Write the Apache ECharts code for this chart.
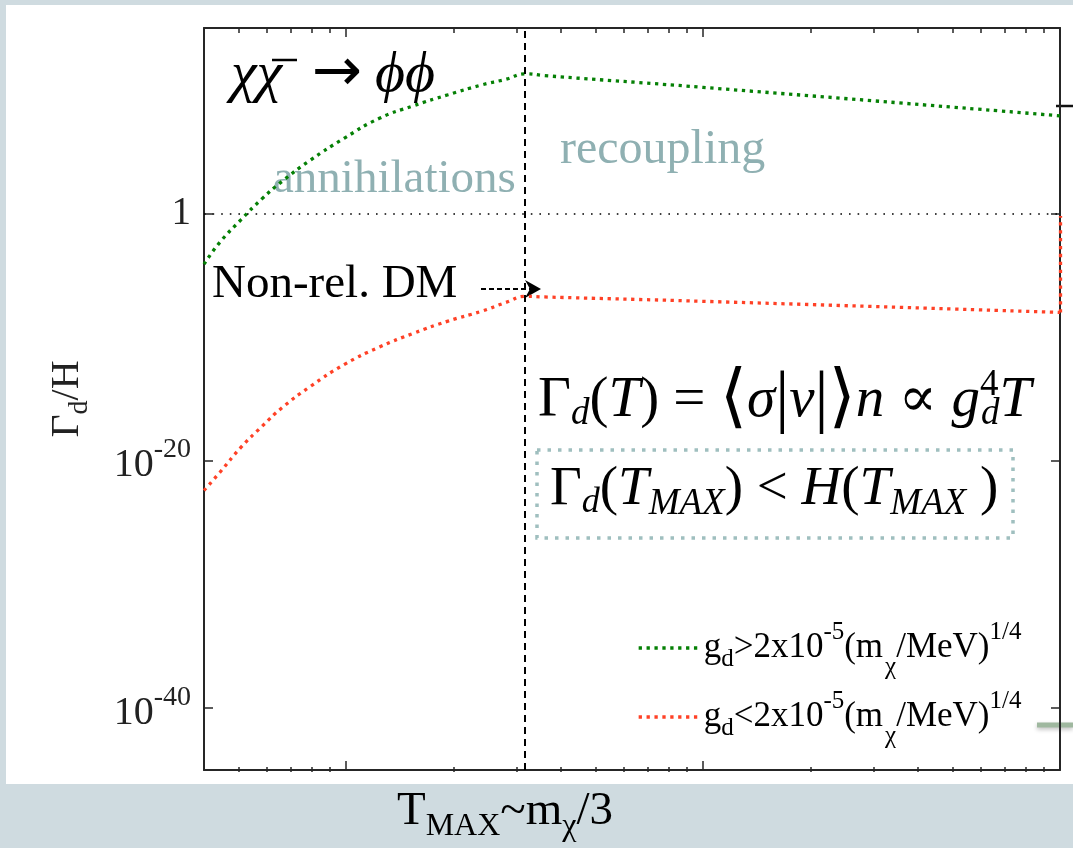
<!DOCTYPE html>
<html>
<head>
<meta charset="utf-8">
<style>
  html, body { margin: 0; padding: 0; background: #cfdbe0; }
  #chart { width: 1073px; height: 848px; }
</style>
<script src="https://cdn.jsdelivr.net/npm/echarts@6/dist/echarts.min.js"></script>
</head>
<body>
<div id="chart"></div>
<script>
// T values (x, log axis) shared by both curves
const tValues = [0.4, 0.444, 0.508, 0.582, 0.662, 0.793, 0.99, 1.24, 1.54, 1.93, 2.4, 2.8, 3.19, 3.6, 10, 100];
// log10(Gamma_d / H)
const greenExp = [-4.1, -2.3, -0.5, 1.2, 2.6, 4.3, 6.1, 7.7, 8.7, 9.6, 10.4, 10.85, 11.3, 11.15, 10.2, 7.9];
const redExp = [-22.4, -20.9, -18.9, -17.2, -15.7, -14.0, -12.2, -10.8, -9.7, -8.7, -7.9, -7.2, -6.7, -6.75, -7.1, -8.0];
// red curve climbs the right edge up to ~1
const redEdgeT = [100, 100];
const redEdgeExp = [-8.0, -0.2];

const seriesNames = ["g_d>2x10^-5(m_chi/MeV)^1/4", "g_d<2x10^-5(m_chi/MeV)^1/4"];
const yTickExps = [-40, -20, 0];
const xMajorTicks = [1, 10, 100];
const xMinorTicks = [0.5, 0.6, 0.7, 0.8, 0.9, 2, 3, 4, 5, 6, 7, 8, 9, 20, 30, 40, 50, 60, 70, 80, 90];
const xRange = [0.4, 100];
const yRange = [-45, 15];
const nonRelT = 3.19; // dashed vertical line
const unityExp = 0;   // Gamma/H = 1

const SERIF = '"Liberation Serif", "DejaVu Serif", serif';
const AXIS_COLOR = "#262626";
const GREEN = "#058005";
const RED = "#ff4126";
const DOTS = [3.3, 4.6];
const lg = (v) => Math.log10(v);

const chart = echarts.init(document.getElementById("chart"));

const greenData = tValues.map((t, i) => [lg(t), greenExp[i]]);
const redData = tValues.map((t, i) => [lg(t), redExp[i]]);

function xAxisDef(grid, pos, ticks, len, withLine) {
  return {
    gridIndex: grid,
    type: "value",
    position: pos,
    min: lg(xRange[0]),
    max: lg(xRange[1]),
    axisLine: { show: withLine, onZero: false, lineStyle: { color: AXIS_COLOR, width: 2 } },
    axisTick: {
      inside: true,
      length: len,
      customValues: ticks.map(lg),
      lineStyle: { color: AXIS_COLOR, width: 1.5 },
    },
    axisLabel: { show: false },
    splitLine: { show: false },
  };
}

// plain text annotation placed on the slide
function note(x, y, text, font, fill) {
  return {
    type: "text",
    x: x,
    y: y,
    style: { text: text, font: font, fill: fill || "#000", align: "left", verticalAlign: "middle" },
  };
}

const option = {
  animation: false,
  backgroundColor: "#cfdbe0",
  grid: [
    { left: 204, top: 28, right: 13, bottom: 76 },
    { left: 204, top: 28, right: 13, bottom: 76 },
  ],
  xAxis: [
    Object.assign(xAxisDef(0, "bottom", xMajorTicks, 9, true), {
      name: "{b|T}{s|MAX}{b|~m}{s|χ}{b|/3}",
      nameLocation: "middle",
      nameGap: 11,
      nameTextStyle: {
        padding: [0, 254, 0, 0],
        rich: {
          b: { fontFamily: SERIF, fontSize: 47, color: "#000", lineHeight: 62 },
          s: { fontFamily: SERIF, fontSize: 32, color: "#000", verticalAlign: "bottom" },
        },
      },
    }),
    xAxisDef(0, "top", xMajorTicks, 9, true),
    xAxisDef(1, "bottom", xMinorTicks, 5, false),
    xAxisDef(1, "top", xMinorTicks, 5, false),
  ],
  yAxis: [
    {
      gridIndex: 0,
      type: "value",
      position: "left",
      min: yRange[0],
      max: yRange[1],
      axisLine: { show: true, onZero: false, lineStyle: { color: AXIS_COLOR, width: 2 } },
      axisTick: { inside: true, length: 9, customValues: yTickExps, lineStyle: { color: AXIS_COLOR, width: 1.5 } },
      axisLabel: {
        customValues: yTickExps,
        margin: 13,
        formatter: (v) => (v === 0 ? "{c|1}" : "{b|10}{p|" + v + "}"),
        rich: {
          c: { fontFamily: SERIF, fontSize: 39, color: "#222" },
          b: { fontFamily: SERIF, fontSize: 40, color: "#222", lineHeight: 50, verticalAlign: "bottom" },
          p: { fontFamily: SERIF, fontSize: 28, color: "#222", verticalAlign: "top" },
        },
      },
      splitLine: { show: false },
      name: "{b|Γ}{s|d}{b|/H}",
      nameLocation: "middle",
      nameRotate: 90,
      nameGap: 110,
      nameTextStyle: {
        rich: {
          b: { fontFamily: SERIF, fontSize: 40, color: "#222", lineHeight: 54 },
          s: { fontFamily: SERIF, fontSize: 28, color: "#222", verticalAlign: "bottom" },
        },
      },
    },
    {
      gridIndex: 0,
      type: "value",
      position: "right",
      min: yRange[0],
      max: yRange[1],
      axisLine: { show: true, onZero: false, lineStyle: { color: AXIS_COLOR, width: 2 } },
      axisTick: { inside: true, length: 9, customValues: yTickExps, lineStyle: { color: AXIS_COLOR, width: 1.5 } },
      axisLabel: { show: false },
      splitLine: { show: false },
    },
    { gridIndex: 1, type: "value", min: yRange[0], max: yRange[1], show: false },
  ],
  legend: {
    orient: "vertical",
    left: 632,
    top: 615,
    itemWidth: 60,
    itemHeight: 10,
    itemGap: 9,
    data: seriesNames,
    itemStyle: { opacity: 0 },
    lineStyle: { width: 3.3 },
    formatter: (name) => {
      const sign = name === seriesNames[0] ? ">" : "<";
      return "{b|g}{s|d}{b|" + sign + "2x10}{p|-5}{b|(m}{x|χ}{b|/MeV)}{p|1/4}";
    },
    textStyle: {
      rich: {
        b: { fontFamily: SERIF, fontSize: 35, color: "#000", lineHeight: 64 },
        s: { fontFamily: SERIF, fontSize: 25, color: "#000", verticalAlign: "bottom", padding: [0, 0, 8, 0] },
        x: { fontFamily: SERIF, fontSize: 25, color: "#000", verticalAlign: "bottom", padding: [0, 0, 0, 2] },
        p: { fontFamily: SERIF, fontSize: 25, color: "#000", verticalAlign: "top", padding: [4, 0, 0, 0] },
      },
    },
  },
  series: [
    {
      name: seriesNames[0],
      type: "line",
      xAxisIndex: 0,
      yAxisIndex: 0,
      data: greenData,
      smooth: 0.5,
      showSymbol: false,
      symbol: "none",
      lineStyle: { color: GREEN, width: 3.3, type: DOTS, cap: "butt" },
      itemStyle: { color: GREEN },
      markLine: {
        silent: true,
        symbol: "none",
        label: { show: false },
        data: [
          { xAxis: lg(nonRelT), lineStyle: { color: "#000", width: 2, type: [7, 5] } },
          { yAxis: unityExp, lineStyle: { color: "#000", width: 1.6, type: [1.6, 7] } },
        ],
      },
    },
    {
      name: seriesNames[1],
      type: "line",
      xAxisIndex: 0,
      yAxisIndex: 0,
      data: redData,
      smooth: 0.5,
      clip: false,
      showSymbol: false,
      symbol: "none",
      lineStyle: { color: RED, width: 3.3, type: DOTS, cap: "butt" },
      itemStyle: { color: RED },
      markLine: {
        silent: true,
        symbol: "none",
        label: { show: false },
        data: [[
          { coord: [lg(redEdgeT[0]), redEdgeExp[0]], lineStyle: { color: RED, width: 3.3, type: DOTS } },
          { coord: [lg(redEdgeT[1]), redEdgeExp[1]] },
        ]],
      },
    },
  ],
  graphic: [
    {
      type: "rect",
      z: -10,
      silent: true,
      shape: { x: 6, y: 5, width: 1067, height: 779 },
      style: { fill: "#ffffff" },
    },
    note(231, 76, "χχ", "italic 58px " + SERIF),
    note(312, 74, "→", '60px "DejaVu Sans", sans-serif'),
    note(375, 76, "ϕϕ", "italic 58px " + SERIF),
    {
      type: "line",
      shape: { x1: 272, y1: 60, x2: 297, y2: 60 },
      style: { stroke: "#000", lineWidth: 2.5 },
    },
    note(273, 180, "annihilations", "47px " + SERIF, "#8fb0b2"),
    note(560, 150, "recoupling", "48px " + SERIF, "#8fb0b2"),
    note(212, 285, "Non-rel. DM", "47px " + SERIF),
    {
      type: "line",
      shape: { x1: 481, y1: 289, x2: 530, y2: 289 },
      style: { stroke: "#000", lineWidth: 2, lineDash: [5, 3] },
    },
    {
      type: "polygon",
      shape: { points: [[525, 280], [541, 289], [525, 298], [530, 289]] },
      style: { fill: "#000" },
    },
    {
      type: "text",
      x: 538,
      y: 401,
      style: {
        text: "{u|Γ}{s|d}{u|(}{i|T}{u|) = }{b|⟨}{i|σ}{b||}{i|v}{b||}{b|⟩}{i|n}{u| ∝ }{i|g}{p|4}{s|d}{i|T}",
        align: "left",
        verticalAlign: "middle",
        rich: {
          u: { fontFamily: SERIF, fontSize: 57, fill: "#000", lineHeight: 80 },
          i: { fontFamily: SERIF, fontSize: 57, fontStyle: "italic", fill: "#000" },
          b: { fontFamily: SERIF, fontSize: 70, fill: "#000" },
          s: { fontFamily: SERIF, fontSize: 37, fontStyle: "italic", fill: "#000", verticalAlign: "bottom", padding: [0, 0, 8, 0] },
          p: { fontFamily: SERIF, fontSize: 37, fill: "#000", verticalAlign: "top", width: 1, padding: [6, 0, 0, 0] },
        },
      },
    },
    {
      type: "rect",
      shape: { x: 537, y: 450, width: 476, height: 88 },
      style: { fill: "none", stroke: "#9fbfbf", lineWidth: 3.5, lineDash: [3.5, 7] },
    },
    {
      type: "text",
      x: 550,
      y: 490,
      style: {
        text: "{u|Γ}{s|d}{u|(}{i|T}{m|MAX}{u|) < }{i|H}{u|(}{i|T}{m|MAX}{u| )}",
        align: "left",
        verticalAlign: "middle",
        rich: {
          u: { fontFamily: SERIF, fontSize: 55, fill: "#000", lineHeight: 78 },
          i: { fontFamily: SERIF, fontSize: 55, fontStyle: "italic", fill: "#000" },
          s: { fontFamily: SERIF, fontSize: 36, fontStyle: "italic", fill: "#000", verticalAlign: "bottom", padding: [0, 0, 8, 0] },
          m: { fontFamily: SERIF, fontSize: 37, fontStyle: "italic", fill: "#000", verticalAlign: "bottom", padding: [0, 0, 6, 0] },
        },
      },
    },
    {
      type: "line",
      shape: { x1: 1056, y1: 106, x2: 1073, y2: 106 },
      style: { stroke: "#111", lineWidth: 2.5 },
    },
    {
      type: "line",
      shape: { x1: 1037, y1: 725, x2: 1073, y2: 725 },
      style: { stroke: "#9fb89f", lineWidth: 5, shadowBlur: 4, shadowColor: "rgba(0,0,0,0.25)", shadowOffsetY: 2 },
    },
  ],
};

chart.setOption(option);
</script>
</body>
</html>
